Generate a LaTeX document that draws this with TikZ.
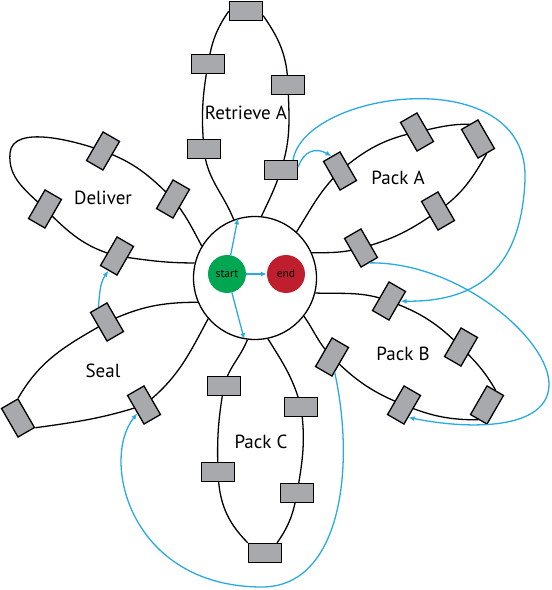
\documentclass[tikz,border=0pt]{standalone}
\usepackage{fontspec}
\setmainfont{PT Sans}
\usetikzlibrary{arrows.meta}
\pgfdeclarelayer{bg}
\pgfsetlayers{bg,main}
\definecolor{flowblue}{HTML}{29ABE2}
\definecolor{taskgrey}{HTML}{A7A9AC}
\definecolor{startgreen}{HTML}{00A651}
\definecolor{endred}{HTML}{BE1E2D}
\tikzset{
  task/.style={draw,fill=taskgrey,line width=1.3pt,minimum width=33pt,minimum height=19pt,inner sep=0pt},
  petal/.style={line width=1.3pt},
  flow/.style={flowblue,line width=1.3pt,-{Latex[length=6pt,width=5pt]}},
  petalname/.style={font=\fontsize{19}{21}\selectfont},
  ball/.style={circle,minimum size=38pt,inner sep=0pt,font=\fontsize{11.5}{12}\selectfont}
}
\begin{document}
\begin{tikzpicture}[x=1pt,y=1pt]
\useasboundingbox (0,0) rectangle (552,590);
% centre
\node[circle,draw,line width=1.3pt,minimum size=123pt,inner sep=0pt] (hub) at (255,312) {};
\node[ball,fill=startgreen] (st) at (227,316) {start};
\node[ball,fill=endred] (en) at (286,316) {end};
\draw[flow] (st) -- (hub.106);
\draw[flow] (st) -- (hub.260);
\draw[flow] (st) -- (en);
% Retrieve A
\node[task] (ra1) at (246,579) {};
\node[task] (ra2) at (208,526) {};
\node[task] (ra3) at (288,505) {};
\node[task] (ra4) at (204,441) {};
\node[task] (ra5) at (281,420) {};
\node[petalname] at (246,477) {Retrieve A};
% Pack A
\node[task,rotate=-60] (pa1) at (340,419) {};
\node[task,rotate=-60] (pa2) at (417,458) {};
\node[task,rotate=-60] (pa3) at (478,451) {};
\node[task,rotate=-60] (pa4) at (438,379) {};
\node[task,rotate=-60] (pa5) at (361,342) {};
\node[petalname] at (398,412) {Pack A};
% Pack B
\node[task,rotate=60] (pb1) at (389,289) {};
\node[task,rotate=60] (pb2) at (461,243) {};
\node[task,rotate=60] (pb3) at (487,185) {};
\node[task,rotate=60] (pb4) at (404,185) {};
\node[task,rotate=60] (pb5) at (332,233) {};
\node[petalname] at (403,236) {Pack B};
% Pack C
\node[task] (pc1) at (224,204) {};
\node[task] (pc2) at (301,183) {};
\node[task] (pc3) at (218,118) {};
\node[task] (pc4) at (297,97) {};
\node[task] (pc5) at (265,37) {};
\node[petalname] at (261,148) {Pack C};
% Seal
\node[task,rotate=-60] (se1) at (107,268) {};
\node[task,rotate=-60] (se2) at (18,172) {};
\node[task,rotate=-60] (se3) at (144,185) {};
\node[petalname] at (103,219) {Seal};
% Deliver
\node[task,rotate=60] (de1) at (103,439) {};
\node[task,rotate=60] (de2) at (173,391) {};
\node[task,rotate=60] (de3) at (117,334) {};
\node[task,rotate=60] (de4) at (45,381) {};
\coordinate (detip) at (10,437);
\node[petalname] at (103,392) {Deliver};
% petal outlines, behind the tasks
\begin{pgfonlayer}{bg}
\draw[petal] (hub.110) to[out=112,in=-85] (ra4.center) to[out=95,in=-100] (ra2.center) to[out=80,in=-125] (ra1.west);
\draw[petal] (ra1.-15) to[out=-55,in=92] (ra3.center) to[out=-88,in=72] (ra5.center) to[out=-108,in=65] (hub.84);
\draw[petal] (hub.48) to[out=58,in=-135] (pa1.center) to[out=40,in=-168] (pa2.center) to[out=12,in=180] (pa3.west);
\draw[petal] (hub.24) to[out=0,in=-165] (pa5.center) to[out=15,in=-145] (pa4.center) to[out=35,in=-120] (pa3.east);
\draw[petal] (hub.-14) to[out=-2,in=160] (pb1.center) to[out=-20,in=135] (pb2.center) to[out=-45,in=120] (pb3.east);
\draw[petal] (hub.-38) to[out=-55,in=135] (pb5.center) to[out=-45,in=158] (pb4.center) to[out=-22,in=180] (pb3.west);
\draw[petal] (hub.263) to[out=-112,in=75] (pc1.center) to[out=-100,in=92] (pc3.center) to[out=-88,in=135] (pc5.north west);
\draw[petal] (hub.-78) to[out=-58,in=105] (pc2.center) to[out=-82,in=80] (pc4.center) to[out=-100,in=55] (pc5.40);
\draw[petal] (hub.203) to[out=180,in=25] (se1.center) to[out=210,in=60] (se2.north west);
\draw[petal] (se2.north east) to[out=8,in=-162] (se3.center) to[out=38,in=-118] (hub.221);
\draw[petal] (hub.149) to[out=118,in=-52] (de2.center) to[out=135,in=-20] (de1.center) to[out=160,in=85,looseness=0.8] (detip) to[out=-95,in=135] (de4.center) to[out=-45,in=165] (de3.center) to[out=-8,in=180] (hub.166);
\end{pgfonlayer}
% flows between tasks
\draw[flow] (ra5.10) to[out=70,in=150,looseness=1.3] (pa1.west);
\draw[flow] (ra5.40) .. controls (305,500) and (530,530) .. (525,410) .. controls (521,314) and (470,288) .. (pb1);
\draw[flow] (pa5.east) .. controls (460,328) and (550,250) .. (549,205) .. controls (548,160) and (470,160) .. (pb4.-130);
\draw[flow] (pb5.-140) .. controls (356,120) and (340,3) .. (262,3) .. controls (130,3) and (100,130) .. (se3);
\draw[flow] (se1.west) to[out=85,in=235] (de3.west);
\end{tikzpicture}
\end{document}
